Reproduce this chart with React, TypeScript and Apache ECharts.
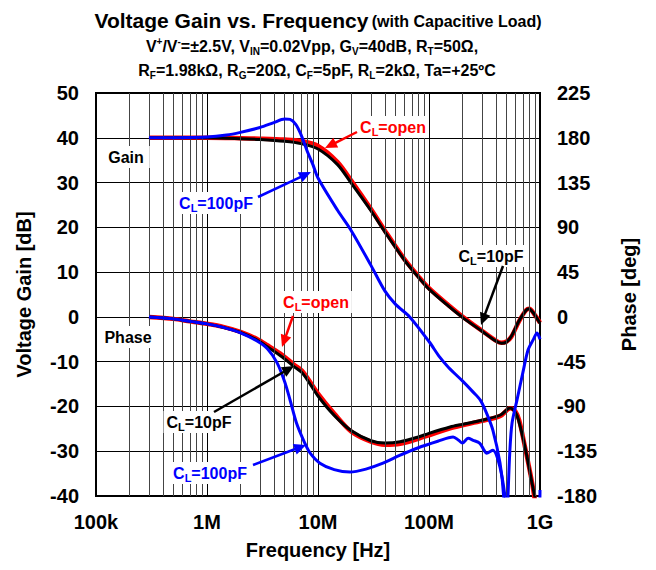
import React, { useEffect, useRef } from 'react';
import * as echarts from 'echarts';

// ---- axis ticks ----
const decadeTicks = [1e5, 1e6, 1e7, 1e8, 1e9];
const decadeLabels = ['100k', '1M', '10M', '100M', '1G'];
const minorDecades = [1e5, 1e6, 1e7, 1e8];
const minorMultipliers = [2, 3, 4, 5, 6, 7, 8, 9];

// ---- Gain (dB) ----
const fGainOpen = [3e5, 1e6, 2e6, 3e6, 5e6, 7e6, 1e7, 1.5e7, 2e7, 3e7, 4e7, 6e7, 8e7, 1e8, 1.5e8, 2e8, 3e8, 4e8, 4.5e8, 5e8, 5.5e8, 6.5e8, 7.5e8, 8e8, 9e8, 1e9];
const gainOpen = [40, 40, 39.9, 39.8, 39.6, 39.3, 38.2, 34.6, 30.4, 24.1, 19.3, 12.9, 9.1, 6.4, 2.6, 0.1, -3.1, -5.3, -5.8, -5.5, -4.5, -0.9, 1.5, 1.8, 0.4, -1.3];

const fGain10 = [3e5, 1e6, 2e6, 3e6, 5e6, 7e6, 1e7, 1.5e7, 2e7, 3e7, 4e7, 6e7, 8e7, 1e8, 1.5e8, 2e8, 3e8, 4e8, 4.5e8, 5e8, 5.5e8, 6.5e8, 7.5e8, 8e8, 8.5e8, 9e8, 1e9];
const gain10 = [40, 40, 39.8, 39.6, 39.2, 38.7, 37.5, 34.0, 29.8, 23.7, 19.0, 12.7, 8.9, 6.2, 2.4, -0.1, -3.2, -5.4, -5.9, -5.6, -4.4, -0.8, 1.5, 1.8, 1.2, 0.4, -1.4];

const fGain100 = [3e5, 1e6, 1.5e6, 2e6, 3e6, 4e6, 5e6, 5.6e6, 6.3e6, 7e6, 8e6, 9e6, 1e7, 1.5e7, 2e7, 3e7, 4e7, 5e7, 6.7e7, 1e8, 1.25e8, 1.5e8, 2e8, 2.5e8, 2.9e8, 3.3e8, 3.76e8, 4.36e8, 4.7e8, 4.9e8, 5.15e8, 5.35e8, 5.6e8, 6.2e8, 7e8, 7.8e8, 8.65e8, 9.4e8, 1e9];
const gain100 = [40, 40.2, 40.6, 41.2, 42.3, 43.4, 44.2, 44.1, 43.0, 40.8, 37.0, 34.0, 31.0, 23.8, 19.2, 11.5, 5.8, 2.8, 0, -5.5, -9, -11.3, -14.3, -16.8, -18.6, -21.5, -25.3, -32.6, -40, -55, -40, -30, -23.7, -18.6, -12.5, -7.4, -5.2, -3.6, -5];

// ---- Phase (deg) ----
const fPhOpen = [3e5, 5e5, 7e5, 1e6, 1.4e6, 2e6, 2.8e6, 3.5e6, 4.8e6, 6e6, 7.3e6, 1e7, 1.4e7, 2e7, 3e7, 4e7, 5.5e7, 8e7, 1e8, 1.55e8, 2e8, 3e8, 4.4e8, 5.4e8, 6e8, 6.5e8, 7.3e8, 8.5e8, 9.2e8, 1e9];
const phOpen = [0, -2, -4.5, -7, -10, -15, -22, -28.5, -38.5, -47.5, -55, -77, -97, -115.5, -125.5, -128.5, -127.5, -122.5, -119, -112, -109, -104.5, -99.5, -91.8, -95, -104, -130, -167, -190, -200];

const fPh10 = [3e5, 5e5, 7e5, 1e6, 1.4e6, 2e6, 2.8e6, 3.5e6, 4.8e6, 6e6, 7.3e6, 1e7, 1.4e7, 2e7, 3e7, 4e7, 5.5e7, 8e7, 1e8, 1.55e8, 2e8, 3.06e8, 4.4e8, 5.37e8, 6e8, 6.4e8, 7.33e8, 8.47e8, 9e8, 1e9];
const ph10 = [0, -2, -4.5, -7, -10.5, -15.5, -23, -30, -40.5, -49.5, -57, -79.5, -99, -114.5, -124.5, -126.8, -125.5, -120.7, -117, -110.7, -108, -103.6, -98.6, -91.6, -96, -103.6, -130.8, -167, -181, -205];

const fPh100 = [3e5, 5e5, 7e5, 1e6, 1.4e6, 2e6, 2.8e6, 3.5e6, 4.27e6, 5e6, 5.6e6, 6.4e6, 7.6e6, 8.5e6, 1.04e7, 1.4e7, 1.94e7, 2.7e7, 3.85e7, 5.5e7, 7.8e7, 1.2e8, 1.65e8, 1.85e8, 2e8, 2.25e8, 2.5e8, 2.87e8, 3.1e8, 3.3e8, 3.76e8, 4.36e8, 4.86e8, 5e8, 9.6e8, 1e9];
const ph100 = [0, -2, -4.5, -7, -10.5, -16, -24, -32, -46, -65, -83.5, -106.6, -126.8, -137, -147, -153.5, -156, -153, -147, -139, -132, -125, -120.7, -124, -126.8, -122, -124, -127, -133, -137, -134, -151, -182, -200, -200, -174];

const FONT = '"Liberation Sans", Arial, sans-serif';
const RED = '#ff0000';
const BLUE = '#0000ff';
const BLACK = '#000000';

const pairs = (fs: number[], vs: number[]) => fs.map((f, i) => [f, vs[i]]);

function arrow(x1: number, y1: number, x2: number, y2: number, color: string) {
  const dx = x2 - x1, dy = y2 - y1;
  const len = Math.sqrt(dx * dx + dy * dy);
  const ux = dx / len, uy = dy / len;
  const hl = 12, hw = 5.5;
  const bx = x2 - ux * hl, by = y2 - uy * hl;
  return [
    { type: 'line', z: 100, shape: { x1, y1, x2: bx + ux * 2, y2: by + uy * 2 }, style: { stroke: color, lineWidth: 2.5 } },
    {
      type: 'polygon', z: 100,
      shape: { points: [[x2, y2], [bx - uy * hw, by + ux * hw], [bx + uy * hw, by - ux * hw]] },
      style: { fill: color },
    },
  ];
}

function clLabel(x: number, y: number, value: string, color: string) {
  return {
    type: 'text', z: 99, x, y,
    style: {
      text: `{t|C}{s|L}{t|=${value}}`,
      align: 'center', verticalAlign: 'middle',
      backgroundColor: '#fff', padding: [1, 3, 1, 3],
      rich: {
        t: { fontFamily: FONT, fontWeight: 'bold', fontSize: 16, fill: color, lineHeight: 20 },
        s: { fontFamily: FONT, fontWeight: 'bold', fontSize: 11, fill: color, lineHeight: 10, verticalAlign: 'bottom' },
      },
    },
  };
}

function plainLabel(x: number, y: number, text: string) {
  return {
    type: 'text', z: 99, x, y,
    style: {
      text, align: 'center', verticalAlign: 'middle',
      fontFamily: FONT, fontWeight: 'bold', fontSize: 16, fill: BLACK,
      backgroundColor: '#fff', padding: [3, 6, 3, 6],
    },
  };
}

const subRich = (size: number) => ({
  n: { fontFamily: FONT, fontWeight: 'bold', fontSize: size, fill: BLACK, lineHeight: 20 },
  sup: { fontFamily: FONT, fontWeight: 'bold', fontSize: 10, fill: BLACK, lineHeight: 9, verticalAlign: 'top' },
  sub: { fontFamily: FONT, fontWeight: 'bold', fontSize: 10, fill: BLACK, lineHeight: 9, verticalAlign: 'bottom' },
});

export default function App() {
  const ref = useRef<HTMLDivElement>(null);
  useEffect(() => {
    if (!ref.current) return;
    const chart = echarts.init(ref.current, undefined, { renderer: 'svg' });
    const axisLabelStyle = { fontFamily: FONT, fontWeight: 'bold', fontSize: 20, color: BLACK } as any;
    const lineSeries = (name: string, data: number[][], color: string, width: number, yAxisIndex: number, z: number) => ({
      name, type: 'line', data, yAxisIndex, z,
      showSymbol: false, symbol: 'none', smooth: 0.3, clip: true,
      lineStyle: { color, width }, itemStyle: { color }, silent: true,
    });
    const option: any = {
      animation: false,
      backgroundColor: '#fff',
      grid: { left: 96, right: 116, top: 93, bottom: 74, show: true, borderColor: BLACK, borderWidth: 2, backgroundColor: 'transparent' },
      xAxis: {
        type: 'log', logBase: 10, min: 1e5, max: 1e9,
        name: 'Frequency [Hz]', nameLocation: 'middle', nameGap: 44,
        nameTextStyle: { fontFamily: FONT, fontWeight: 'bold', fontSize: 20, color: BLACK },
        axisLine: { show: false }, axisTick: { show: false },
        axisLabel: {
          ...axisLabelStyle, margin: 16,
          formatter: (v: number) => {
            const i = decadeTicks.findIndex((d) => Math.abs(Math.log10(d) - Math.log10(v)) < 1e-6);
            return i >= 0 ? decadeLabels[i] : '';
          },
        },
        splitLine: { show: true, lineStyle: { color: BLACK, width: 1 } },
      },
      yAxis: [
        {
          type: 'value', min: -40, max: 50, interval: 10, position: 'left',
          name: 'Voltage Gain [dB]', nameLocation: 'middle', nameGap: 62,
          nameTextStyle: { fontFamily: FONT, fontWeight: 'bold', fontSize: 20, color: BLACK },
          axisLine: { show: false }, axisTick: { show: false },
          axisLabel: { ...axisLabelStyle, margin: 17 },
          splitLine: { show: true, lineStyle: { color: BLACK, width: 1 } },
        },
        {
          type: 'value', min: -180, max: 225, interval: 45, position: 'right',
          name: 'Phase [deg]', nameLocation: 'middle', nameGap: 79,
          nameTextStyle: { fontFamily: FONT, fontWeight: 'bold', fontSize: 20, color: BLACK },
          axisLine: { show: false }, axisTick: { show: false },
          axisLabel: { ...axisLabelStyle, margin: 17 },
          splitLine: { show: false },
        },
      ],
      series: [
        {
          name: 'minor-grid', type: 'line', data: [[1e5, -40]], showSymbol: false, symbol: 'none',
          lineStyle: { opacity: 0 }, z: 1, silent: true,
          markLine: {
            silent: true, symbol: ['none', 'none'], label: { show: false },
            lineStyle: { color: '#444', width: 1, type: 'solid' },
            emphasis: { disabled: true },
            data: minorDecades.flatMap((d) => minorMultipliers.map((m) => ({ xAxis: d * m }))),
          },
        },
        lineSeries('Gain CL=open', pairs(fGainOpen, gainOpen), RED, 4.5, 0, 3),
        lineSeries('Phase CL=open', pairs(fPhOpen, phOpen), RED, 4.5, 1, 3),
        lineSeries('Gain CL=10pF', pairs(fGain10, gain10), BLACK, 3, 0, 4),
        lineSeries('Phase CL=10pF', pairs(fPh10, ph10), BLACK, 3, 1, 4),
        lineSeries('Gain CL=100pF', pairs(fGain100, gain100), BLUE, 3, 0, 5),
        lineSeries('Phase CL=100pF', pairs(fPh100, ph100), BLUE, 3, 1, 5),
      ],
      graphic: [
        {
          type: 'text', x: 318, y: 20, z: 100,
          style: {
            text: '{a|Voltage Gain vs. Frequency} {b|(with Capacitive Load)}',
            align: 'center', verticalAlign: 'middle',
            rich: {
              a: { fontFamily: FONT, fontWeight: 'bold', fontSize: 21, fill: BLACK, lineHeight: 24 },
              b: { fontFamily: FONT, fontWeight: 'bold', fontSize: 16, fill: BLACK, lineHeight: 24, padding: [3, 0, 0, 0] },
            },
          },
        },
        {
          type: 'text', x: 312, y: 46, z: 100,
          style: {
            text: '{n|V}{sup|+}{n|/V}{sup|-}{n|=±2.5V, V}{sub|IN}{n|=0.02Vpp, G}{sub|V}{n|=40dB, R}{sub|T}{n|=50Ω,}',
            align: 'center', verticalAlign: 'middle', rich: subRich(16),
          },
        },
        {
          type: 'text', x: 317, y: 70, z: 100,
          style: {
            text: '{n|R}{sub|F}{n|=1.98kΩ, R}{sub|G}{n|=20Ω, C}{sub|F}{n|=5pF, R}{sub|L}{n|=2kΩ, Ta=+25ºC}',
            align: 'center', verticalAlign: 'middle', rich: subRich(16),
          },
        },
        plainLabel(126, 157, 'Gain'),
        plainLabel(128, 337, 'Phase'),
        clLabel(393, 127, 'open', RED),
        ...arrow(357, 132, 325, 148, RED),
        clLabel(216, 203, '100pF', BLUE),
        ...arrow(258, 197, 311, 172, BLUE),
        clLabel(491, 256, '10pF', BLACK),
        ...arrow(503, 266, 481, 325, BLACK),
        clLabel(316, 302, 'open', RED),
        ...arrow(293, 316, 282, 347, RED),
        clLabel(199, 422, '10pF', BLACK),
        ...arrow(214, 412, 294, 366, BLACK),
        clLabel(210, 473, '100pF', BLUE),
        ...arrow(253, 465, 306, 445, BLUE),
      ],
    };
    chart.setOption(option);
    return () => chart.dispose();
  }, []);
  return <div ref={ref} style={{ position: 'fixed', left: 0, top: 0, width: 656, height: 570, background: '#fff' }} />;
}
